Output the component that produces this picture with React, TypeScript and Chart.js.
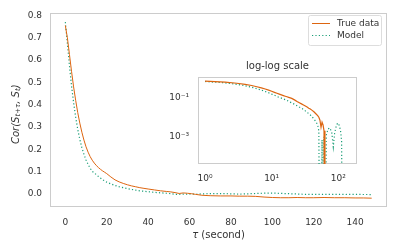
import React, { useEffect, useRef } from 'react';
import { Chart, registerables } from 'chart.js';
Chart.register(...registerables);

const tau = [0, 1, 2, 3, 4, 5, 6, 7, 8, 9, 10, 11, 12, 13, 14, 15, 16, 17, 18, 19, 20,
  22, 24, 26, 28, 30, 32, 34, 36, 38, 40, 43, 46, 49, 51, 53, 55, 57, 59, 61, 63, 66, 70, 75,
  80, 84, 88, 92, 96, 100, 104, 108, 112, 116, 120, 125, 130, 135, 140, 144, 148];

const trueData = [0.755, 0.70, 0.625, 0.55, 0.48, 0.42, 0.365, 0.318, 0.277, 0.242, 0.212,
  0.188, 0.168, 0.152, 0.139, 0.128, 0.119, 0.111, 0.104, 0.098, 0.092,
  0.077, 0.064, 0.055, 0.048, 0.042, 0.037, 0.033, 0.029, 0.026, 0.023, 0.019, 0.015, 0.012,
  0.010, 0.007, 0.003, 0.0055, 0.004, 0.002, -0.001, -0.005, -0.007, -0.008,
  -0.008, -0.009, -0.009, -0.010, -0.013, -0.015, -0.016, -0.016, -0.015, -0.016, -0.016,
  -0.015, -0.016, -0.016, -0.017, -0.017, -0.018];

const modelData = [0.77, 0.675, 0.575, 0.485, 0.41, 0.345, 0.29, 0.245, 0.208, 0.178, 0.153,
  0.133, 0.116, 0.102, 0.095, 0.087, 0.079, 0.072, 0.065, 0.059, 0.054,
  0.046, 0.039, 0.033, 0.029, 0.025, 0.021, 0.018, 0.015, 0.013, 0.011, 0.008, 0.006, 0.004,
  0.002, -0.001, -0.001, 0.0007, -0.0005, 0.001, -0.0005, 0.0012, 0.0025, 0.0028,
  0.0015, 0.0003, 0.0015, 0.003, 0.0045, 0.005, 0.0035, 0.002, 0.0006, -0.0008, -0.001,
  -0.0012, -0.001, -0.0015, -0.0012, -0.0015, -0.0018];

const seriesLabels = ['True data', 'Model'];
const yTickValues = [0, 0.1, 0.2, 0.3, 0.4, 0.5, 0.6, 0.7, 0.8];
const xTickValues = [0, 20, 40, 60, 80, 100, 120, 140];
const insetXTickValues = [1, 10, 100];
const insetYTickValues = [0.1, 0.001];
const insetTitle = 'log-log scale';
const xTitleSymbol = 'τ';
const xTitleRest = ' (second)';

const ORANGE = '#dd6510';
const GREEN = '#1b9e77';
const FONT = '"DejaVu Sans", sans-serif';
const TEXT = '#333333';
const EDGE = '#cccccc';

const SUP: Record<string, string> = { '0': '⁰', '1': '¹', '2': '²', '3': '³', '4': '⁴', '5': '⁵', '6': '⁶', '7': '⁷', '8': '⁸', '9': '⁹', '-': '⁻' };
const pow10Label = (v: number) => {
  const e = Math.round(Math.log10(v));
  return '10' + String(e).split('').map((c) => SUP[c] || c).join('');
};

const framePlugin = {
  id: 'frame',
  beforeDatasetsDraw(chart: any) {
    const { ctx, chartArea: a } = chart;
    ctx.save();
    ctx.strokeStyle = EDGE;
    ctx.lineWidth = 1;
    ctx.strokeRect(Math.round(a.left) + 0.5, Math.round(a.top) + 0.5, Math.round(a.right - a.left) - 1, Math.round(a.bottom - a.top) - 1);
    ctx.restore();
  },
};

const mainDecor = {
  id: 'mainDecor',
  afterDraw(chart: any) {
    const { ctx, chartArea: a } = chart;
    ctx.save();
    ctx.fillStyle = TEXT;
    // x title
    ctx.textBaseline = 'middle';
    ctx.font = `italic 10px ${FONT}`;
    const w1 = ctx.measureText(xTitleSymbol).width;
    ctx.font = `10px ${FONT}`;
    const w2 = ctx.measureText(xTitleRest).width;
    const cx = (a.left + a.right) / 2;
    const x0 = cx - (w1 + w2) / 2;
    ctx.textAlign = 'left';
    ctx.font = `italic 10px ${FONT}`;
    ctx.fillText(xTitleSymbol, x0, 235);
    ctx.font = `10px ${FONT}`;
    ctx.fillText(xTitleRest, x0 + w1, 235);

    // y title (rotated)
    const parts = [
      { t: 'Cor(S', s: 10, sub: false },
      { t: 't+τ', s: 7, sub: true },
      { t: ', S', s: 10, sub: false },
      { t: 't', s: 7, sub: true },
      { t: ')', s: 10, sub: false },
    ];
    let total = 0;
    const widths = parts.map((p) => {
      ctx.font = `italic ${p.s}px ${FONT}`;
      const w = ctx.measureText(p.t).width;
      total += w;
      return w;
    });
    ctx.translate(16, (a.top + a.bottom) / 2 + 4);
    ctx.rotate(-Math.PI / 2);
    let px = -total / 2;
    parts.forEach((p, i) => {
      ctx.font = `italic ${p.s}px ${FONT}`;
      ctx.fillText(p.t, px, p.sub ? 2.5 : 0);
      px += widths[i];
    });
    ctx.restore();

    // legend
    ctx.save();
    const bx = 308.5, by = 15.5, bw = 73, bh = 30;
    ctx.fillStyle = 'rgba(255,255,255,0.8)';
    ctx.strokeStyle = '#dddddd';
    ctx.lineWidth = 1;
    ctx.beginPath();
    (ctx as any).roundRect(bx, by, bw, bh, 2);
    ctx.fill();
    ctx.stroke();
    const rows = [23.5, 35.5];
    chart.data.datasets.forEach((ds: any, i: number) => {
      ctx.strokeStyle = ds.borderColor;
      ctx.lineWidth = ds.borderWidth;
      ctx.setLineDash(ds.borderDash || []);
      ctx.beginPath();
      ctx.moveTo(312, rows[i]);
      ctx.lineTo(330, rows[i]);
      ctx.stroke();
      ctx.setLineDash([]);
      ctx.fillStyle = TEXT;
      ctx.font = `9px ${FONT}`;
      ctx.textAlign = 'left';
      ctx.textBaseline = 'middle';
      ctx.fillText(ds.label, 337, rows[i]);
    });
    ctx.restore();
  },
};

const insetDecor = {
  id: 'insetDecor',
  beforeDraw(chart: any) {
    const { ctx, chartArea: a } = chart;
    ctx.save();
    ctx.fillStyle = '#ffffff';
    ctx.fillRect(a.left, a.top, a.right - a.left, a.bottom - a.top);
    ctx.fillStyle = TEXT;
    ctx.font = `10px ${FONT}`;
    ctx.textAlign = 'center';
    ctx.textBaseline = 'middle';
    ctx.fillText(insetTitle, (a.left + a.right) / 2, 66);
    ctx.restore();
  },
};

const clipLog = (v: number) => (v > 0 ? v : 1e-12);

export default function App() {
  const mainRef = useRef<HTMLCanvasElement>(null);
  const insetRef = useRef<HTMLCanvasElement>(null);

  useEffect(() => {
    document.body.style.margin = '0';
    const fmt = (v: number) => (Math.abs(v) < 1e-9 ? 0 : v).toFixed(1);
    const main = new Chart(mainRef.current!, {
      type: 'line',
      data: {
        datasets: [
          {
            label: seriesLabels[0],
            data: tau.map((t, i) => ({ x: t, y: trueData[i] })),
            borderColor: ORANGE,
            borderWidth: 1.0,
            pointRadius: 0,
            tension: 0,
          },
          {
            label: seriesLabels[1],
            data: tau.map((t, i) => ({ x: t, y: modelData[i] })),
            borderColor: GREEN,
            borderWidth: 1.2,
            borderDash: [1.2, 2.2],
            pointRadius: 0,
            tension: 0,
          },
        ],
      },
      options: {
        animation: false,
        responsive: false,
        events: [],
        layout: { padding: { left: 0, top: 11, right: 9, bottom: 0 } },
        plugins: { legend: { display: false }, tooltip: { enabled: false }, title: { display: false } },
        scales: {
          x: {
            type: 'linear',
            min: -7.4,
            max: 155.4,
            afterFit: (s: any) => { s.height = 45; },
            afterBuildTicks: (s: any) => { s.ticks = xTickValues.map((v) => ({ value: v })); },
            grid: { display: false, drawTicks: false },
            border: { display: false },
            ticks: { padding: 10, color: TEXT, font: { family: FONT, size: 9 }, autoSkip: false, maxRotation: 0, callback: (v: any) => String(v) },
          },
          y: {
            type: 'linear',
            min: -0.0575,
            max: 0.809,
            afterFit: (s: any) => { s.width = 50; },
            afterBuildTicks: (s: any) => { s.ticks = yTickValues.map((v) => ({ value: v })); },
            grid: { display: false, drawTicks: false },
            border: { display: false },
            ticks: { padding: 8, color: TEXT, font: { family: FONT, size: 9 }, autoSkip: false, callback: (v: any) => fmt(Number(v)) },
          },
        },
      },
      plugins: [framePlugin, mainDecor],
    });

    const idx = tau.map((t, i) => i).filter((i) => tau[i] > 0);
    const inset = new Chart(insetRef.current!, {
      type: 'line',
      data: {
        datasets: [
          {
            label: seriesLabels[0],
            data: idx.map((i) => ({ x: tau[i], y: clipLog(trueData[i]) })),
            borderColor: ORANGE,
            borderWidth: 1.2,
            pointRadius: 0,
            tension: 0,
          },
          {
            label: seriesLabels[1],
            data: idx.map((i) => ({ x: tau[i], y: clipLog(modelData[i]) })),
            borderColor: GREEN,
            borderWidth: 1.2,
            borderDash: [1.2, 2.2],
            pointRadius: 0,
            tension: 0,
          },
        ],
      },
      options: {
        animation: false,
        responsive: false,
        events: [],
        layout: { padding: { left: 150, top: 77, right: 39, bottom: 0 } },
        plugins: { legend: { display: false }, tooltip: { enabled: false }, title: { display: false } },
        scales: {
          x: {
            type: 'logarithmic',
            min: Math.pow(10, -0.105),
            max: Math.pow(10, 2.28),
            afterFit: (s: any) => { s.height = 88; },
            afterBuildTicks: (s: any) => { s.ticks = insetXTickValues.map((v) => ({ value: v })); },
            grid: { display: false, drawTicks: false },
            border: { display: false },
            ticks: { padding: 9, color: TEXT, font: { family: FONT, size: 9 }, autoSkip: false, maxRotation: 0, callback: (v: any) => pow10Label(Number(v)) },
          },
          y: {
            type: 'logarithmic',
            min: Math.pow(10, -4.4),
            max: Math.pow(10, 0.06),
            afterFit: (s: any) => { s.width = 48; },
            afterBuildTicks: (s: any) => { s.ticks = insetYTickValues.map((v) => ({ value: v })); },
            grid: { display: false, drawTicks: false },
            border: { display: false },
            ticks: { padding: 9, color: TEXT, font: { family: FONT, size: 9 }, autoSkip: false, callback: (v: any) => pow10Label(Number(v)) },
          },
        },
      },
      plugins: [insetDecor, framePlugin],
    });
    return () => {
      main.destroy();
      inset.destroy();
    };
  }, []);

  return (
    <div style={{ position: 'relative', width: 396, height: 252, background: '#ffffff' }}>
      <canvas ref={mainRef} width={396} height={252} style={{ position: 'absolute', left: 0, top: 0, width: 396, height: 252 }} />
      <canvas ref={insetRef} width={396} height={252} style={{ position: 'absolute', left: 0, top: 0, width: 396, height: 252 }} />
    </div>
  );
}
